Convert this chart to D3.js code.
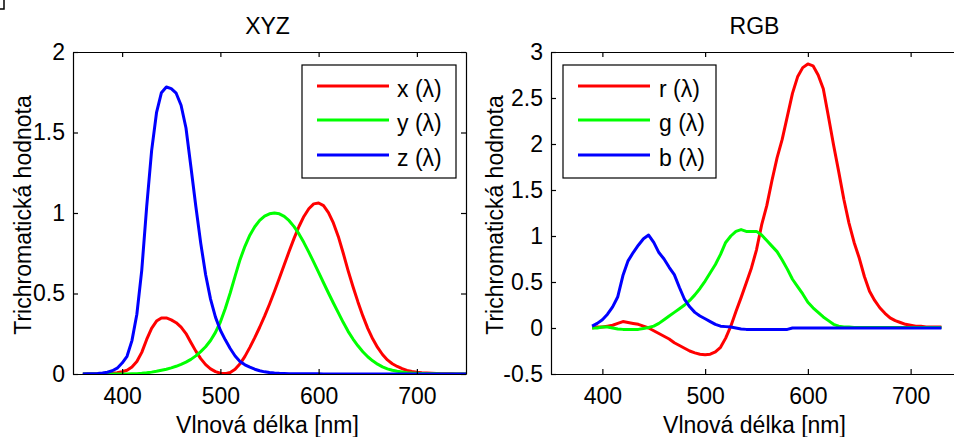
<!DOCTYPE html>
<html>
<head>
<meta charset="utf-8">
<script src="https://cdn.jsdelivr.net/npm/d3@7"></script>
<style>
	body { margin: 0; background: #ffffff; }
	svg text { font-family: "Liberation Sans", Arial, sans-serif; fill: #000000; }
</style>
</head>
<body>
<div id="chart"></div>
<script>
// CIE 1931 colour matching functions (XYZ panel), 5 nm steps
const lambdaXYZ = [360,365,370,375,380,385,390,395,400,405,410,415,420,425,430,435,440,445,450,455,
	460,465,470,475,480,485,490,495,500,505,510,515,520,525,530,535,540,545,550,555,
	560,565,570,575,580,585,590,595,600,605,610,615,620,625,630,635,640,645,650,655,
	660,665,670,675,680,685,690,695,700,705,710,715,720,725,730,735,740,745,750];
const xBar = [0.00013,0.000232,0.000415,0.000742,0.001368,0.002236,0.004243,0.00765,0.01431,0.02319,
	0.04351,0.07763,0.13438,0.21477,0.2839,0.3285,0.34828,0.34806,0.3362,0.3187,
	0.2908,0.2511,0.19536,0.1421,0.09564,0.05795,0.03201,0.0147,0.0049,0.0024,
	0.0093,0.0291,0.06327,0.1096,0.1655,0.22575,0.2904,0.3597,0.43345,0.51205,
	0.5945,0.6784,0.7621,0.8425,0.9163,0.9786,1.0263,1.0567,1.0622,1.0456,
	1.0026,0.9384,0.85445,0.7514,0.6424,0.5419,0.4479,0.3608,0.2835,0.2187,
	0.1649,0.1212,0.0874,0.0636,0.04677,0.0329,0.0227,0.01584,0.011359,0.008111,
	0.00579,0.004109,0.002899,0.002049,0.00144,0.000999,0.00069,0.000476,0.000332];
const yBar = [0.000004,0.000007,0.000012,0.000022,0.000039,0.000064,0.00012,0.000217,0.000396,0.00064,
	0.00121,0.00218,0.004,0.0073,0.0116,0.01684,0.023,0.0298,0.038,0.048,
	0.06,0.0739,0.09098,0.1126,0.13902,0.1693,0.20802,0.2586,0.323,0.4073,
	0.503,0.6082,0.71,0.7932,0.862,0.91485,0.954,0.9803,0.99495,1.0,
	0.995,0.9786,0.952,0.9154,0.87,0.8163,0.757,0.6949,0.631,0.5668,
	0.503,0.4412,0.381,0.321,0.265,0.217,0.175,0.1382,0.107,0.0816,
	0.061,0.04458,0.032,0.0232,0.017,0.01192,0.00821,0.005723,0.004102,0.002929,
	0.002091,0.001484,0.001047,0.00074,0.00052,0.000361,0.000249,0.000172,0.00012];
const zBar = [0.000606,0.001086,0.001946,0.003486,0.00645,0.01055,0.02005,0.03621,0.06785,0.1102,
	0.2074,0.3713,0.6456,1.03905,1.3856,1.62296,1.74706,1.7826,1.77211,1.7441,
	1.6692,1.5281,1.28764,1.0419,0.81295,0.6162,0.46518,0.3533,0.272,0.2123,
	0.1582,0.1117,0.07825,0.05725,0.04216,0.02984,0.0203,0.0134,0.00875,0.00575,
	0.0039,0.00275,0.0021,0.0018,0.00165,0.0014,0.0011,0.001,0.0008,0.0006,
	0.00034,0.00024,0.00019,0.0001,0.00005,0.00003,0.00002,0.00001,0,0,
	0,0,0,0,0,0,0,0,0,0,
	0,0,0,0,0,0,0,0,0];

// RGB panel (390-730 nm, 5 nm steps)
const lambdaRGB = [390,395,400,405,410,415,420,425,430,435,440,445,450,455,460,465,470,475,480,485,
	490,495,500,505,510,515,520,525,530,535,540,545,550,555,560,565,570,575,580,585,
	590,595,600,605,610,615,620,625,630,635,640,645,650,655,660,665,670,675,680,685,
	690,695,700,705,710,715,720,725,730];
const rBar = [0.00,0.01,0.01,0.02,0.03,0.05,0.07,0.06,0.05,0.04,
	0.02,0.00,-0.03,-0.06,-0.09,-0.12,-0.16,-0.19,-0.22,-0.25,
	-0.27,-0.285,-0.29,-0.285,-0.26,-0.21,-0.11,0.02,0.18,0.33,
	0.49,0.65,0.85,1.12,1.33,1.60,1.85,2.05,2.30,2.55,
	2.73,2.83,2.87,2.85,2.75,2.60,2.30,1.99,1.70,1.40,
	1.14,0.93,0.76,0.56,0.40,0.30,0.22,0.16,0.11,0.08,
	0.06,0.04,0.03,0.02,0.02,0.01,0.01,0.01,0.01];
const gBar = [0.00,0.00,0.01,0.01,0.00,-0.01,-0.015,-0.015,-0.015,-0.015,
	-0.005,0.005,0.02,0.05,0.09,0.13,0.17,0.21,0.25,0.30,
	0.36,0.43,0.51,0.60,0.69,0.80,0.93,1.00,1.05,1.07,
	1.05,1.05,1.05,1.01,0.95,0.89,0.83,0.74,0.64,0.53,
	0.45,0.37,0.28,0.22,0.17,0.12,0.08,0.04,0.02,0.01,
	0.01,0.005,0.005,0.005,0.005,0.005,0.005,0.005,0.005,0.005,
	0.005,0.005,0.005,0.005,0.005,0.005,0.005,0.005,0.005];
const bBar = [0.02,0.05,0.09,0.15,0.23,0.34,0.57,0.73,0.82,0.90,
	0.97,1.01,0.93,0.82,0.75,0.66,0.58,0.44,0.31,0.23,
	0.17,0.13,0.10,0.07,0.04,0.02,0.015,0.01,0.00,-0.01,
	-0.015,-0.015,-0.015,-0.015,-0.015,-0.015,-0.015,-0.015,-0.015,0,
	0,0,0,0,0,0,0,0,0,0,
	0,0,0,0,0,0,0,0,0,0,
	0,0,0,0,0,0,0,0,0];

const legendXYZ = ['x (λ)', 'y (λ)', 'z (λ)'];
const legendRGB = ['r (λ)', 'g (λ)', 'b (λ)'];
const xTicks = [400, 500, 600, 700];
const yTicksXYZ = [0, 0.5, 1, 1.5, 2];
const yTicksRGB = [-0.5, 0, 0.5, 1, 1.5, 2, 2.5, 3];
const colors = ['#ff0000', '#00ff00', '#0000ff'];

const W = 954, H = 437;
const plotTop = 52, plotBottom = 374;
const fontSize = 23;

const panels = [
	{ title: 'XYZ', lambda: lambdaXYZ, series: [xBar, yBar, zBar], labels: legendXYZ,
	  yDomain: [0, 2], yTicks: yTicksXYZ, left: 73, right: 466, ylabelX: 31,
	  legend: { x: 302, w: 154, lineX: 317, textX: 397 } },
	{ title: 'RGB', lambda: lambdaRGB, series: [rBar, gBar, bBar], labels: legendRGB,
	  yDomain: [-0.5, 3], yTicks: yTicksRGB, left: 551, right: 962, ylabelX: 503,
	  legend: { x: 563, w: 153, lineX: 578, textX: 659 } }
];

const svg = d3.select('#chart')
	.append('svg')
	.attr('width', W)
	.attr('height', H);

// small stray mark in the top-left corner of the original
svg.append('path')
	.attr('d', 'M4,0 L4,9 L0,9')
	.attr('fill', 'none')
	.attr('stroke', '#000')
	.attr('stroke-width', 1.5);

function styleAxis(g) {
	g.attr('font-size', fontSize)
		.attr('font-family', '"Liberation Sans", Arial, sans-serif');
	g.selectAll('.domain').attr('stroke', '#000').attr('stroke-width', 1.2);
	g.selectAll('.tick line').attr('stroke', '#000').attr('stroke-width', 1.2);
}

panels.forEach(p => {
	const x = d3.scaleLinear().domain([350, 750]).range([p.left, p.right]);
	const y = d3.scaleLinear().domain(p.yDomain).range([plotBottom, plotTop]);
	const cx = (p.left + p.right) / 2;

	const clipId = 'clip-' + p.title;
	svg.append('clipPath').attr('id', clipId)
		.append('rect')
		.attr('x', p.left).attr('y', plotTop)
		.attr('width', p.right - p.left).attr('height', plotBottom - plotTop);

	// curves
	const line = d3.line()
		.x((d, i) => x(p.lambda[i]))
		.y(d => y(d));
	svg.append('g')
		.attr('clip-path', `url(#${clipId})`)
		.selectAll('path')
		.data(p.series)
		.join('path')
		.attr('d', d => line(d))
		.attr('fill', 'none')
		.attr('stroke', (d, i) => colors[i])
		.attr('stroke-width', 3)
		.attr('stroke-linejoin', 'round');

	// axes, ticks inside on all four sides
	svg.append('g')
		.attr('transform', `translate(0,${plotBottom})`)
		.call(d3.axisBottom(x).tickValues(xTicks).tickSize(-5).tickSizeOuter(0).tickPadding(14))
		.call(styleAxis);
	svg.append('g')
		.attr('transform', `translate(0,${plotTop})`)
		.call(d3.axisTop(x).tickValues(xTicks).tickSize(-5).tickSizeOuter(0).tickFormat(() => ''))
		.call(styleAxis);
	svg.append('g')
		.attr('transform', `translate(${p.left},0)`)
		.call(d3.axisLeft(y).tickValues(p.yTicks).tickSize(-5).tickSizeOuter(0).tickPadding(8).tickFormat(d => String(d)))
		.call(styleAxis);
	svg.append('g')
		.attr('transform', `translate(${p.right},0)`)
		.call(d3.axisRight(y).tickValues(p.yTicks).tickSize(-5).tickSizeOuter(0).tickFormat(() => ''))
		.call(styleAxis);

	// titles and labels
	svg.append('text')
		.attr('x', cx - 2).attr('y', 34)
		.attr('text-anchor', 'middle')
		.attr('font-size', fontSize)
		.text(p.title);
	svg.append('text')
		.attr('x', cx - 2).attr('y', 433)
		.attr('text-anchor', 'middle')
		.attr('font-size', fontSize)
		.text('Vlnová délka [nm]');
	svg.append('text')
		.attr('transform', `translate(${p.ylabelX},${(plotTop + plotBottom) / 2 + 2}) rotate(-90)`)
		.attr('text-anchor', 'middle')
		.attr('font-size', fontSize)
		.text('Trichromatická hodnota');

	// legend
	const rowY = [86, 120, 155];
	const lg = svg.append('g');
	lg.append('rect')
		.attr('x', p.legend.x).attr('y', 65)
		.attr('width', p.legend.w).attr('height', 113)
		.attr('fill', '#fff')
		.attr('stroke', '#000')
		.attr('stroke-width', 1.2);
	lg.selectAll('line')
		.data(p.labels)
		.join('line')
		.attr('x1', p.legend.lineX).attr('x2', p.legend.lineX + 72)
		.attr('y1', (d, i) => rowY[i]).attr('y2', (d, i) => rowY[i])
		.attr('stroke', (d, i) => colors[i])
		.attr('stroke-width', 3);
	lg.selectAll('text')
		.data(p.labels)
		.join('text')
		.attr('x', p.legend.textX)
		.attr('y', (d, i) => rowY[i] + 11)
		.attr('font-size', fontSize)
		.text(d => d);
});
</script>
</body>
</html>
